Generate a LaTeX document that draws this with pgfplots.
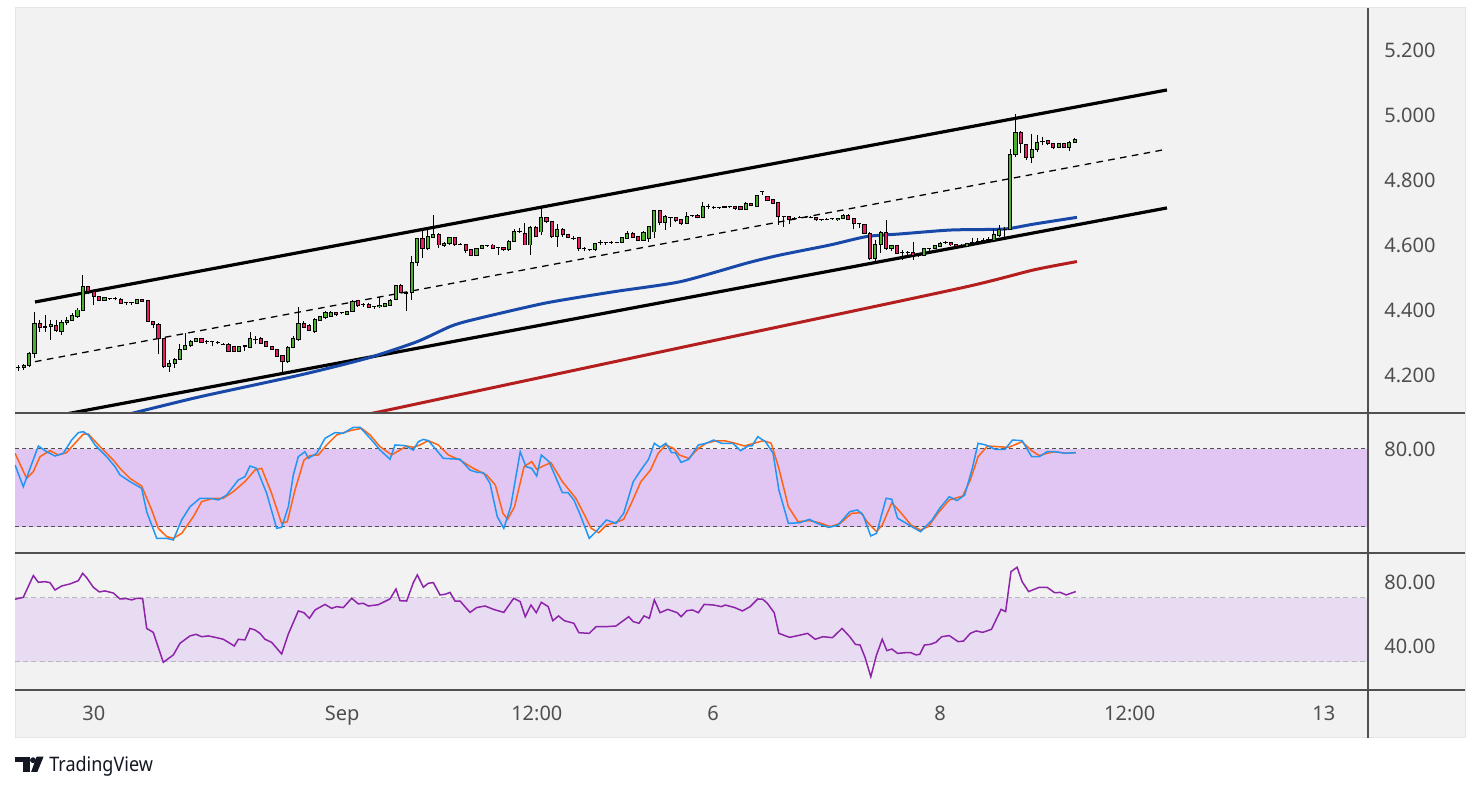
\documentclass[border=0pt]{standalone}
\usepackage{pgfplots}
\usepackage{pgfplotstable}
\usepackage{fontspec}
\setmainfont{Noto Sans}
\pgfplotsset{compat=1.18}
\definecolor{bgc}{RGB}{242,242,242}
\definecolor{sepc}{RGB}{80,80,80}
\definecolor{labc}{RGB}{78,78,78}
\definecolor{upc}{RGB}{76,175,45}
\definecolor{dnc}{RGB}{233,30,99}
\definecolor{maBlue}{RGB}{24,72,168}
\definecolor{maRed}{RGB}{180,30,30}
\definecolor{kc}{RGB}{33,150,243}
\definecolor{dc}{RGB}{255,100,20}
\definecolor{rsic}{RGB}{142,36,170}
\definecolor{stf}{RGB}{225,197,243}
\definecolor{rsf}{RGB}{232,220,242}
\definecolor{logoc}{RGB}{19,23,34}
\newcommand{\labfont}{\fontsize{10pt}{12pt}\selectfont}

\pgfplotstableread{
i o h l c
0 4.222 4.230 4.212 4.222
1 4.223 4.235 4.215 4.230
2 4.229 4.270 4.225 4.267
3 4.267 4.395 4.253 4.359
4 4.359 4.369 4.333 4.347
5 4.347 4.385 4.333 4.349
6 4.348 4.369 4.308 4.354
7 4.351 4.369 4.333 4.337
8 4.335 4.369 4.323 4.362
9 4.362 4.379 4.354 4.369
10 4.369 4.390 4.366 4.383
11 4.381 4.407 4.376 4.400
12 4.398 4.508 4.398 4.472
13 4.472 4.475 4.448 4.456
14 4.456 4.462 4.415 4.441
15 4.443 4.443 4.428 4.430
16 4.430 4.441 4.428 4.438
17 4.434 4.437 4.431 4.434
18 4.434 4.440 4.430 4.434
19 4.433 4.438 4.418 4.420
20 4.422 4.423 4.415 4.422
21 4.422 4.423 4.415 4.422
22 4.420 4.433 4.418 4.431
23 4.431 4.433 4.426 4.427
24 4.428 4.431 4.366 4.366
25 4.366 4.366 4.344 4.354
26 4.356 4.359 4.264 4.311
27 4.311 4.315 4.223 4.226
28 4.226 4.246 4.210 4.236
29 4.235 4.253 4.223 4.248
30 4.248 4.295 4.248 4.279
31 4.279 4.330 4.279 4.292
32 4.292 4.307 4.287 4.303
33 4.302 4.313 4.300 4.311
34 4.311 4.313 4.300 4.300
35 4.302 4.307 4.294 4.302
36 4.302 4.303 4.290 4.302
37 4.299 4.304 4.294 4.299
38 4.295 4.297 4.293 4.295
39 4.295 4.297 4.272 4.272
40 4.287 4.290 4.272 4.272
41 4.272 4.290 4.270 4.289
42 4.287 4.292 4.275 4.290
43 4.284 4.333 4.284 4.313
44 4.308 4.320 4.295 4.308
45 4.311 4.318 4.295 4.297
46 4.303 4.305 4.287 4.287
47 4.289 4.290 4.277 4.277
48 4.277 4.279 4.256 4.256
49 4.259 4.262 4.205 4.241
50 4.241 4.290 4.238 4.285
51 4.285 4.320 4.283 4.313
52 4.310 4.410 4.305 4.357
53 4.357 4.365 4.345 4.347
54 4.351 4.356 4.335 4.337
55 4.334 4.375 4.330 4.371
56 4.369 4.382 4.366 4.379
57 4.377 4.396 4.372 4.393
58 4.380 4.396 4.377 4.393
59 4.392 4.395 4.380 4.386
60 4.392 4.395 4.388 4.392
61 4.386 4.398 4.384 4.396
62 4.395 4.432 4.393 4.425
63 4.428 4.431 4.410 4.413
64 4.417 4.422 4.410 4.417
65 4.417 4.420 4.405 4.407
66 4.412 4.413 4.403 4.412
67 4.410 4.440 4.405 4.415
68 4.410 4.423 4.408 4.420
69 4.415 4.435 4.413 4.430
70 4.433 4.478 4.431 4.474
71 4.474 4.480 4.451 4.454
72 4.455 4.456 4.397 4.452
73 4.453 4.566 4.430 4.547
74 4.547 4.621 4.536 4.621
75 4.621 4.646 4.559 4.590
76 4.590 4.653 4.585 4.626
77 4.624 4.692 4.621 4.633
78 4.633 4.636 4.590 4.600
79 4.599 4.610 4.594 4.605
80 4.605 4.626 4.600 4.624
81 4.624 4.626 4.597 4.602
82 4.603 4.606 4.600 4.603
83 4.602 4.604 4.575 4.583
84 4.585 4.587 4.567 4.567
85 4.567 4.592 4.565 4.590
86 4.590 4.600 4.588 4.598
87 4.598 4.601 4.595 4.598
88 4.600 4.602 4.590 4.590
89 4.592 4.594 4.570 4.592
90 4.592 4.594 4.583 4.585
91 4.585 4.614 4.583 4.612
92 4.612 4.649 4.612 4.643
93 4.643 4.651 4.636 4.643
94 4.636 4.667 4.600 4.600
95 4.600 4.659 4.570 4.653
96 4.653 4.658 4.626 4.626
97 4.640 4.716 4.630 4.684
98 4.684 4.687 4.667 4.672
99 4.672 4.674 4.620 4.626
100 4.626 4.664 4.595 4.649
101 4.649 4.651 4.624 4.631
102 4.631 4.633 4.620 4.623
103 4.621 4.627 4.615 4.621
104 4.623 4.625 4.580 4.588
105 4.588 4.595 4.580 4.588
106 4.585 4.587 4.580 4.585
107 4.585 4.607 4.583 4.605
108 4.608 4.616 4.600 4.608
109 4.608 4.610 4.600 4.608
110 4.608 4.612 4.604 4.608
111 4.608 4.610 4.605 4.608
112 4.608 4.625 4.606 4.623
113 4.621 4.643 4.618 4.636
114 4.636 4.640 4.620 4.623
115 4.626 4.628 4.613 4.615
116 4.615 4.643 4.613 4.639
117 4.620 4.658 4.610 4.656
118 4.640 4.708 4.620 4.705
119 4.705 4.707 4.660 4.670
120 4.670 4.692 4.646 4.687
121 4.684 4.687 4.655 4.684
122 4.684 4.687 4.672 4.674
123 4.677 4.680 4.660 4.667
124 4.667 4.702 4.665 4.687
125 4.690 4.693 4.686 4.690
126 4.692 4.694 4.682 4.684
127 4.684 4.733 4.684 4.718
128 4.718 4.725 4.711 4.718
129 4.715 4.719 4.711 4.715
130 4.715 4.717 4.712 4.715
131 4.715 4.720 4.713 4.718
132 4.717 4.720 4.713 4.717
133 4.718 4.720 4.709 4.711
134 4.718 4.720 4.707 4.709
135 4.709 4.731 4.707 4.728
136 4.728 4.730 4.719 4.721
137 4.718 4.755 4.716 4.752
138 4.764 4.766 4.754 4.764
139 4.749 4.752 4.736 4.738
140 4.741 4.743 4.726 4.728
141 4.731 4.733 4.662 4.687
142 4.687 4.690 4.656 4.687
143 4.687 4.689 4.664 4.679
144 4.682 4.685 4.678 4.682
145 4.686 4.689 4.683 4.686
146 4.685 4.689 4.682 4.685
147 4.685 4.689 4.682 4.685
148 4.685 4.687 4.675 4.677
149 4.677 4.680 4.674 4.677
150 4.679 4.682 4.676 4.679
151 4.680 4.682 4.678 4.680
152 4.677 4.684 4.675 4.682
153 4.682 4.694 4.680 4.692
154 4.692 4.694 4.677 4.679
155 4.682 4.684 4.648 4.665
156 4.665 4.667 4.652 4.665
157 4.664 4.666 4.634 4.636
158 4.634 4.640 4.555 4.559
159 4.559 4.615 4.549 4.602
160 4.602 4.644 4.575 4.639
161 4.639 4.677 4.585 4.590
162 4.590 4.600 4.580 4.597
163 4.597 4.599 4.572 4.574
164 4.576 4.585 4.554 4.576
165 4.576 4.582 4.561 4.576
166 4.576 4.610 4.554 4.569
167 4.569 4.572 4.562 4.569
168 4.569 4.592 4.567 4.590
169 4.590 4.592 4.580 4.590
170 4.590 4.600 4.588 4.597
171 4.595 4.608 4.593 4.605
172 4.608 4.613 4.603 4.608
173 4.608 4.610 4.598 4.600
174 4.602 4.604 4.593 4.595
175 4.600 4.603 4.595 4.600
176 4.595 4.607 4.593 4.605
177 4.608 4.623 4.600 4.608
178 4.610 4.620 4.605 4.610
179 4.613 4.622 4.608 4.613
180 4.617 4.625 4.612 4.617
181 4.613 4.649 4.610 4.631
182 4.628 4.662 4.626 4.648
183 4.648 4.654 4.615 4.648
184 4.648 4.894 4.648 4.877
185 4.877 5.003 4.872 4.946
186 4.946 4.952 4.882 4.911
187 4.908 4.910 4.862 4.869
188 4.869 4.942 4.853 4.894
189 4.894 4.938 4.887 4.916
190 4.918 4.931 4.908 4.918
191 4.920 4.922 4.909 4.911
192 4.913 4.915 4.894 4.900
193 4.900 4.913 4.898 4.911
194 4.911 4.913 4.898 4.900
195 4.900 4.919 4.890 4.916
196 4.916 4.928 4.914 4.925
}\candles

\pgfplotsset{candlebar/.style={draw=none, mark=none, forget plot,
  error bars/.cd, y dir=plus, y explicit, error mark=none}}

\begin{document}
\begin{tikzpicture}[x=1pt,y=1pt]
\useasboundingbox (0,0) rectangle (739.5,395.5);
\fill[white] (0,0) rectangle (739.5,395.5);
\fill[bgc] (7.5,26.5) rectangle (732.5,391.5);
\draw[black!10, line width=0.5pt] (7.5,26.5) rectangle (732.5,391.5);

% ---------------- price pane ----------------
\begin{axis}[
  at={(7.5pt,189pt)}, anchor=south west, scale only axis,
  width=676.5pt, height=202.5pt,
  xmin=-0.61, xmax=250.4, ymin=4.0831, ymax=5.3292,
  axis line style={draw=none}, tick style={draw=none}, major tick length=0pt,
  xtick=\empty,
  ytick={4.2,4.4,4.6,4.8,5.0,5.2},
  yticklabels={4.200,4.400,4.600,4.800,5.000,5.200},
  yticklabel pos=right,
  yticklabel style={anchor=west, inner sep=0pt, xshift=8pt, font=\labfont, text=labc},
]
% channel
\addplot[black, line width=1.6pt] coordinates {(3.1,4.4246) (213.1,5.077)};
\addplot[black, line width=1.6pt] coordinates {(5,4.068) (213.1,4.714)};
\addplot[black, line width=0.65pt, dash pattern=on 3.3pt off 2.7pt] coordinates {(3.1,4.241) (212.2,4.892)};
% moving averages
\addplot[maRed, line width=1.5pt, smooth, tension=0.4] coordinates {
(55,4.050)(65.6,4.082)(80.1,4.133)(126.5,4.297)(174.7,4.467)(188.3,4.523)(196.4,4.549)};
\addplot[maBlue, line width=1.5pt, smooth, tension=0.4] coordinates {
(12,4.046)(21.3,4.083)(33.7,4.133)(52.3,4.200)(64.6,4.251)(73.9,4.302)(80.1,4.349)(84.1,4.369)
(97.7,4.421)(110.4,4.456)(122.8,4.487)(135.1,4.544)(141.3,4.569)(150.6,4.600)(157.4,4.626)
(163.6,4.634)(172.9,4.646)(180.9,4.648)(184.0,4.651)(188.3,4.664)(196.4,4.685)};
% candles: wicks
\addplot[candlebar, error bar style={draw=black, line width=0.5pt}]
  table[x=i, y=l, y error plus expr={\thisrow{h}-\thisrow{l}}] {\candles};
% candles: body outline
\addplot[candlebar, error bar style={draw=black, line width=2.1pt}]
  table[x=i, y expr={min(\thisrow{o},\thisrow{c})-0.0015}, y error plus expr={abs(\thisrow{c}-\thisrow{o})+0.003}] {\candles};
% candles: up bodies
\addplot[restrict expr to domain={\thisrow{c}-\thisrow{o}}{0:1}, candlebar,
  error bar style={draw=upc, line width=1.1pt}]
  table[x=i, y expr={min(\thisrow{o},\thisrow{c})+0.0015}, y error plus expr={max(abs(\thisrow{c}-\thisrow{o})-0.003,0)}] {\candles};
% candles: down bodies
\addplot[restrict expr to domain={\thisrow{c}-\thisrow{o}}{-1:-0.0001}, candlebar,
  error bar style={draw=dnc, line width=1.1pt}]
  table[x=i, y expr={min(\thisrow{o},\thisrow{c})+0.0015}, y error plus expr={max(abs(\thisrow{c}-\thisrow{o})-0.003,0)}] {\candles};
\end{axis}

% ---------------- stochastic pane ----------------
\begin{axis}[
  at={(7.5pt,119pt)}, anchor=south west, scale only axis,
  width=676.5pt, height=70pt,
  xmin=-0.61, xmax=250.4, ymin=0, ymax=107.69,
  axis line style={draw=none}, tick style={draw=none}, major tick length=0pt,
  xtick=\empty,
  ytick={80}, yticklabels={80.00},
  yticklabel pos=right,
  yticklabel style={anchor=west, inner sep=0pt, xshift=8pt, font=\labfont, text=labc},
]
\addplot[fill=stf, draw=none] coordinates {(-0.61,20) (250.4,20) (250.4,80) (-0.61,80)} -- cycle;
\addplot[sepc, line width=0.5pt, dash pattern=on 2pt off 1.6pt] coordinates {(-0.61,80) (250.4,80)};
\addplot[sepc, line width=0.5pt, dash pattern=on 2pt off 1.6pt] coordinates {(-0.61,20) (250.4,20)};
\addplot[dc, line width=0.75pt] coordinates {
(-0.61,76.7)(1.55,57.4)(2.79,62.6)(4.03,74.1)(5.88,78.7)(7.43,75.4)(8.97,77.2)(10.52,84.4)(12.07,91.5)(12.99,91.5)(15.16,81.8)(17.63,71.5)(18.87,65.1)(20.72,57.4)(22.89,51.5)(24.75,33.1)(25.98,19.0)(27.53,12.6)(28.76,11.3)(30.31,15.1)(32.47,27.9)(34.02,39.5)(36.18,42.1)(38.04,42.1)(39.89,47.2)(42.05,54.9)(43.91,63.8)(45.15,65.1)(47.0,45.9)(48.86,22.8)(49.91,24.1)(51.34,48.5)(53.01,71.5)(54.12,74.9)(55.67,75.4)(57.21,83.1)(59.07,90.8)(61.54,94.1)(63.7,95.9)(65.25,90.8)(67.11,81.8)(69.27,75.4)(70.81,79.2)(72.05,82.3)(73.29,81.3)(74.53,83.1)(76.07,86.4)(77.93,83.1)(79.78,75.4)(81.95,71.5)(84.42,65.1)(86.89,60.0)(88.5,52.3)(89.92,30.5)(90.78,25.9)(92.06,35.6)(93.83,66.4)(95.25,70.3)(96.18,64.4)(97.39,66.9)(98.81,69.5)(100.94,54.9)(103.43,42.1)(105.21,27.9)(106.27,19.0)(107.69,15.6)(109.11,21.5)(111.25,24.1)(112.31,25.9)(113.73,38.2)(115.51,54.9)(117.29,63.8)(118.71,76.7)(120.13,83.1)(121.55,80.5)(122.62,75.4)(124.4,72.8)(126.17,80.5)(127.59,84.4)(129.37,86.2)(131.15,86.2)(132.57,84.9)(134.7,82.3)(136.48,84.4)(138.25,86.4)(139.68,84.4)(141.1,65.1)(142.87,35.6)(144.65,24.1)(146.78,24.9)(148.56,23.3)(150.69,20.3)(152.47,22.8)(154.6,30.5)(156.38,31.0)(157.44,24.1)(159.22,16.4)(160.28,21.5)(162.06,38.7)(163.84,30.5)(165.62,21.5)(167.39,17.7)(168.81,20.3)(170.59,30.5)(172.72,40.8)(175.21,43.8)(176.63,56.2)(178.06,74.1)(179.83,82.3)(181.61,81.8)(183.74,81.3)(186.23,85.6)(188.0,78.7)(189.43,74.9)(190.85,76.7)(192.27,77.9)(194.4,76.7)(196.18,77.2)};
\addplot[kc, line width=0.75pt] coordinates {
(-0.61,67.7)(0.93,51.0)(3.72,82.3)(5.26,77.9)(6.81,74.6)(8.36,76.7)(9.90,86.9)(11.14,92.6)(12.07,93.3)(12.99,90.8)(14.23,83.1)(16.39,74.1)(17.94,66.4)(18.87,60.0)(20.72,54.9)(22.89,49.7)(23.82,31.8)(25.68,11.3)(27.53,11.3)(28.76,10.0)(30.31,25.4)(31.86,35.6)(33.71,42.1)(35.56,42.1)(37.11,40.8)(38.65,44.6)(40.82,56.2)(42.05,58.7)(42.98,66.9)(44.22,65.1)(46.08,45.9)(47.93,19.0)(48.86,19.7)(50.1,35.6)(51.02,60.0)(51.95,74.1)(53.19,77.9)(53.81,72.8)(55.36,76.7)(56.9,88.2)(58.76,92.6)(60.3,92.1)(62.16,96.7)(63.4,96.7)(65.56,86.9)(67.11,79.2)(68.96,72.1)(69.89,83.1)(71.75,82.6)(73.29,79.2)(74.22,85.6)(75.15,87.4)(76.07,86.4)(77.31,80.5)(78.85,72.8)(81.95,72.1)(83.8,63.8)(85.04,62.1)(86.28,61.8)(87.51,53.6)(88.86,28.0)(90.07,19.0)(91.35,35.6)(93.12,77.9)(94.19,66.4)(95.25,65.1)(96.18,59.2)(97.03,75.4)(98.45,70.3)(100.94,46.4)(102.0,46.4)(103.07,40.8)(104.14,30.5)(105.92,11.3)(106.98,15.6)(109.11,25.4)(110.89,22.8)(112.31,30.5)(114.09,54.9)(115.51,63.8)(116.93,72.1)(118.0,84.4)(119.06,81.3)(120.13,84.4)(121.2,77.2)(121.91,77.2)(122.97,69.7)(124.4,72.1)(126.17,83.1)(127.59,84.4)(129.0,86.9)(130.44,84.4)(132.57,84.4)(133.99,78.7)(135.41,82.3)(136.12,82.3)(137.19,89.5)(138.61,85.6)(140.03,76.7)(141.1,48.5)(142.87,22.8)(145.0,23.3)(146.78,25.9)(148.2,22.8)(150.34,19.7)(152.11,21.5)(154.25,31.8)(155.67,33.1)(156.73,29.2)(158.15,13.1)(159.22,15.1)(161.0,42.1)(162.06,41.3)(163.13,26.7)(164.55,23.3)(165.97,19.7)(167.39,16.4)(169.53,25.4)(170.95,34.4)(172.72,43.3)(174.14,40.3)(175.57,44.6)(176.99,65.1)(178.06,84.4)(179.48,83.1)(181.25,79.7)(183.03,79.7)(184.45,86.9)(186.23,86.4)(188.0,74.1)(189.43,74.1)(190.85,77.9)(192.27,77.9)(194.4,76.7)(196.18,77.2)};
\end{axis}

% ---------------- RSI pane ----------------
\begin{axis}[
  at={(7.5pt,50.5pt)}, anchor=south west, scale only axis,
  width=676.5pt, height=68.5pt,
  xmin=-0.61, xmax=250.4, ymin=12.5, ymax=98.125,
  axis line style={draw=none}, tick style={draw=none}, major tick length=0pt,
  xtick={14.0,60.1,96.2,128.9,171.0,206.2,242.2},
  xticklabels={30,Sep,12:00,6,8,12:00,13},
  xticklabel style={anchor=base, inner sep=0pt, yshift=-15.5pt, font=\labfont, text=labc},
  ytick={40,80}, yticklabels={40.00,80.00},
  yticklabel pos=right,
  yticklabel style={anchor=west, inner sep=0pt, xshift=8pt, font=\labfont, text=labc},
]
\addplot[fill=rsf, draw=none] coordinates {(-0.61,30) (250.4,30) (250.4,70) (-0.61,70)} -- cycle;
\addplot[black!28, line width=0.5pt, dash pattern=on 2.5pt off 1.6pt] coordinates {(-0.61,70) (250.4,70)};
\addplot[black!28, line width=0.5pt, dash pattern=on 2.5pt off 1.6pt] coordinates {(-0.61,30) (250.4,30)};
\addplot[rsic, line width=0.75pt] coordinates {
(-0.61,69.2)(0.93,70.4)(2.79,84.0)(3.72,79.8)(4.95,80.2)(5.88,79.6)(6.81,75.0)(8.05,77.5)(9.59,78.8)(11.14,80.8)(11.94,85.4)(12.68,82.7)(13.92,76.7)(15.03,73.8)(16.08,74.4)(17.63,73.1)(18.87,69.4)(20.1,69.6)(21.03,68.8)(21.96,69.8)(23.07,69.6)(23.82,51.0)(25.05,48.5)(26.9,29.8)(28.76,34.4)(30.0,41.7)(31.86,46.3)(32.97,47.3)(34.02,45.8)(35.26,46.3)(36.8,45.2)(38.04,44.2)(40.08,40.0)(40.82,44.2)(42.05,43.8)(42.98,51.0)(43.91,50.0)(44.84,47.9)(45.77,44.2)(47.0,42.3)(48.86,35.0)(50.1,47.5)(51.95,61.9)(53.0,60.8)(54.0,57.3)(55.05,62.5)(56.9,66.0)(58.14,63.5)(59.07,64.6)(60.3,64.0)(61.85,69.8)(63.09,66.3)(64.0,66.7)(64.94,65.0)(66.8,65.8)(68.96,69.4)(70.07,75.6)(70.81,68.3)(72.05,68.1)(73.29,79.6)(74.03,84.4)(75.15,76.7)(76.07,79.2)(77.0,79.6)(78.24,71.9)(79.16,72.3)(80.09,73.5)(81.02,68.1)(81.95,68.1)(83.8,61.0)(85.04,64.0)(86.59,65.0)(88.14,62.9)(90.07,61.0)(91.91,69.8)(93.12,67.7)(94.05,58.3)(95.11,65.6)(96.1,60.8)(97.03,67.3)(98.31,64.6)(99.16,55.8)(100.23,58.8)(101.3,55.8)(103.07,54.2)(104.0,48.3)(105.92,47.9)(107.2,52.1)(109.11,52.1)(110.89,52.5)(113.24,58.3)(114.09,55.2)(115.16,54.2)(116.08,58.8)(117.07,57.3)(118.0,68.8)(119.06,60.8)(120.49,62.9)(122.26,60.8)(122.97,58.3)(124.04,62.1)(125.1,62.5)(126.17,60.8)(127.24,66.0)(129.0,65.6)(130.44,64.6)(131.15,65.6)(132.92,64.0)(134.35,61.9)(135.77,64.6)(137.19,69.4)(138.11,69.2)(138.96,66.7)(140.24,60.8)(141.1,47.9)(143.09,45.4)(144.65,46.5)(146.43,47.9)(147.85,44.2)(149.27,45.8)(151.05,45.2)(152.82,51.0)(154.25,45.8)(155.31,41.0)(156.17,40.6)(157.09,32.9)(158.16,20.8)(159.22,34.4)(160.28,44.2)(161.14,37.1)(162.06,38.1)(163.13,35.4)(164.55,35.8)(165.62,35.8)(166.54,34.4)(167.25,34.8)(168.1,40.6)(169.17,41.0)(170.24,42.3)(171.3,45.8)(172.72,46.5)(174.36,42.7)(175.35,43.1)(176.63,47.9)(177.7,49.4)(178.91,48.5)(180.54,50.4)(182.32,62.9)(183.17,61.5)(184.17,86.5)(185.3,89.2)(186.23,80.2)(187.44,74.0)(189.43,76.7)(190.85,76.7)(192.27,73.3)(193.33,73.5)(194.4,71.9)(196.18,74.0)};
\end{axis}

% pane separators
\draw[sepc, line width=0.6pt] (7.5,189) -- (732.5,189);
\draw[sepc, line width=0.6pt] (7.5,119) -- (732.5,119);
\draw[sepc, line width=0.6pt] (7.5,50.5) -- (732.5,50.5);
\draw[sepc, line width=0.6pt] (684,26.5) -- (684,391.5);

% TradingView logo
\fill[logoc] (7.5,14.5) rectangle (15,17.2);
\fill[logoc] (11.3,9.6) rectangle (15,17.2);
\fill[logoc] (16.5,15.4) circle (1.45);
\fill[logoc] (18.3,17.2) -- (21.8,17.2) -- (18.7,9.6) -- (15.6,9.6) -- cycle;
\node[anchor=base west, inner sep=0pt, text=logoc, xscale=0.9] at (24.5,9.7) {\fontsize{10pt}{12pt}\selectfont TradingView};
\end{tikzpicture}
\end{document}
